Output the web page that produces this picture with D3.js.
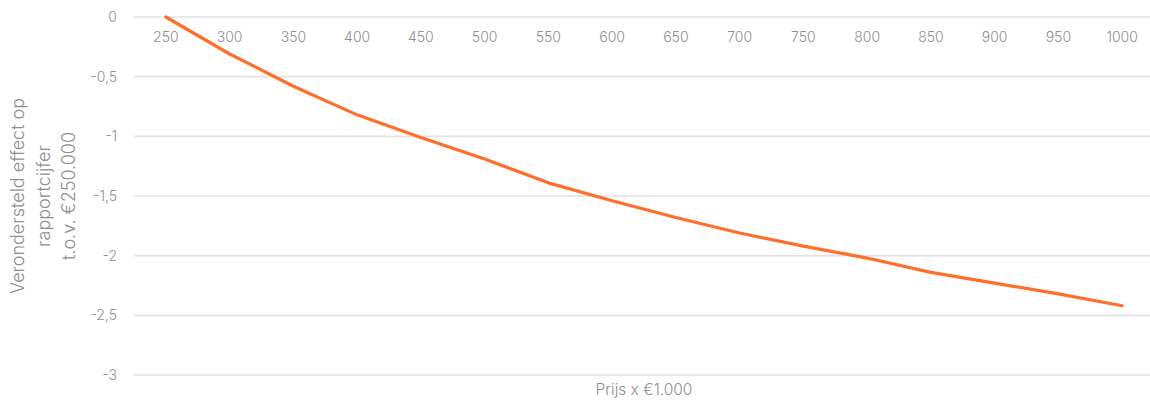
<!DOCTYPE html>
<html lang="nl">
<head>
<meta charset="UTF-8">
<title>Verondersteld effect op rapportcijfer</title>
<script src="https://d3js.org/d3.v7.min.js"></script>
<style>
  body { margin: 0; background: #fff; }
  svg { display: block; font-family: "Inter", "Noto Sans", sans-serif; font-weight: 300; }
  .grid line { stroke: #e3e3e3; stroke-width: 1.6; }
  .tick text { fill: #8f8f8f; font-size: 14px; font-family: "Inter", "Noto Sans", sans-serif; font-weight: 300; }
  .title { fill: #8f8f8f; font-size: 18px; }
</style>
</head>
<body>
<div id="chart"></div>
<script>
  // prijs x €1.000
  const prices = ["250", "300", "350", "400", "450", "500", "550", "600",
                  "650", "700", "750", "800", "850", "900", "950", "1000"];
  // verondersteld effect op rapportcijfer
  const effect = [0, -0.31, -0.58, -0.82, -1.01, -1.19, -1.39, -1.54,
                  -1.68, -1.81, -1.92, -2.02, -2.14, -2.23, -2.32, -2.42];
  const yTicks = [0, -0.5, -1, -1.5, -2, -2.5, -3];
  const yTitle = ["Verondersteld effect op", "rapportcijfer", "t.o.v. €250.000"];
  const xTitle = "Prijs x €1.000";

  const width = 1150, height = 401;

  const svg = d3.select("#chart").append("svg")
      .attr("width", width)
      .attr("height", height);

  const x = d3.scaleBand()
      .domain(prices)
      .range([134, 1154]);

  const y = d3.scaleLinear()
      .domain([-3, 0])
      .range([375, 17]);

  const fmt = v => String(v).replace(".", ",");

  // horizontal grid lines
  svg.append("g")
      .attr("class", "grid")
      .selectAll("line")
      .data(yTicks)
      .join("line")
      .attr("x1", 134)
      .attr("x2", width)
      .attr("y1", d => y(d))
      .attr("y2", d => y(d));

  // y axis labels
  const yAxis = svg.append("g")
      .attr("transform", "translate(134,0)")
      .call(d3.axisLeft(y).tickValues(yTicks).tickFormat(fmt).tickSize(0).tickPadding(17));
  yAxis.select(".domain").remove();

  // x axis labels, along the zero line
  const xAxis = svg.append("g")
      .attr("transform", `translate(0,${y(0)})`)
      .call(d3.axisBottom(x).tickSize(0).tickPadding(15));
  xAxis.select(".domain").remove();

  // the line
  const line = d3.line()
      .x((d, i) => x(prices[i]) + x.bandwidth() / 2)
      .y(d => y(d));

  svg.append("path")
      .datum(effect)
      .attr("fill", "none")
      .attr("stroke", "#ff6f2c")
      .attr("stroke-width", 3.2)
      .attr("stroke-linecap", "round")
      .attr("stroke-linejoin", "round")
      .attr("d", line);

  // axis titles
  const yt = svg.append("text")
      .attr("class", "title")
      .attr("text-anchor", "middle")
      .attr("transform", "translate(24,196) rotate(-90)");
  yt.selectAll("tspan")
      .data(yTitle)
      .join("tspan")
      .attr("x", 0)
      .attr("dy", (d, i) => i === 0 ? 0 : 25.5)
      .text(d => d);

  svg.append("text")
      .attr("class", "title")
      .attr("text-anchor", "middle")
      .attr("x", 644)
      .attr("y", 395)
      .style("font-size", "15.5px")
      .text(xTitle);
</script>
</body>
</html>
